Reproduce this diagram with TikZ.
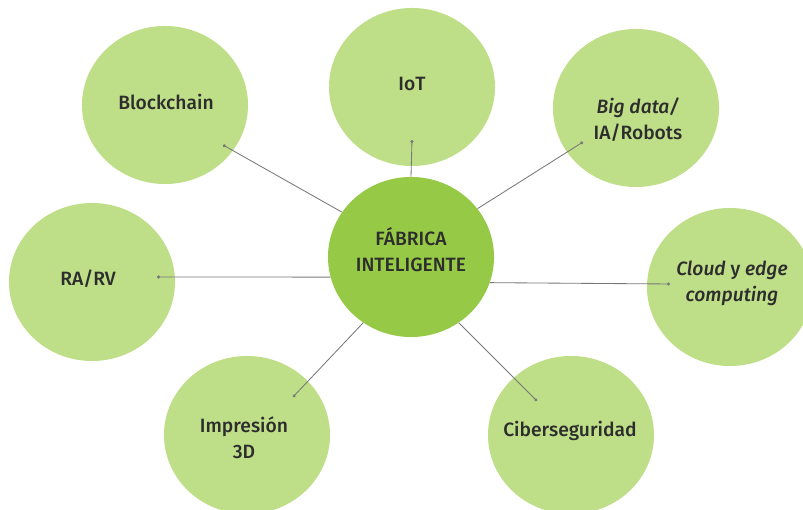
\documentclass[tikz,border=0pt]{standalone}
\usepackage{fontspec}
\setmainfont{Fira Sans}[BoldFont={* Medium},BoldItalicFont={* Medium Italic}]
\usetikzlibrary{shapes.geometric,arrows.meta}

\definecolor{leaf}{RGB}{190,222,136}
\definecolor{core}{RGB}{150,201,70}
\definecolor{ink}{RGB}{45,45,45}
\definecolor{wire}{RGB}{120,120,120}

\begin{document}
\begin{tikzpicture}[x=0.025cm,y=-0.025cm,
    sat/.style={ellipse,fill=leaf,minimum width=4.15cm,minimum height=3.95cm,inner sep=0pt},
    hub/.style={sat,fill=core,minimum height=4cm},
    txt/.style={text=ink,font=\fontsize{13.7}{18.5}\selectfont\bfseries,align=center,inner sep=0pt},
    conn/.style={{Circle[length=2.2pt]}-,draw=wire,line width=0.6pt}]
    \clip (0,0) rectangle (803,510);
    \begin{scope}
        \node[sat] (block) at (165,105) {};
        \node[sat] (iot) at (412,87) {};
        \node[sat] (bigdata) at (636,108) {};
        \node[sat] (rarv) at (92,282) {};
        \node[sat] (cloud) at (730,287) {};
        \node[sat] (print) at (247,435) {};
        \node[sat] (cyber) at (571,435) {};
        \node[hub] (fab) at (411,257) {};
    \end{scope}
    % textos
    \node[txt] (block-t) at (166,102) {Blockchain};
    \node[txt] (iot-t) at (412,84) {IoT};
    \node[txt] (bigdata-t) at (638,120) {\textit{Big data/}\\IA/Robots};
    \node[txt] (rarv-t) at (88,279) {RA/RV};
    \node[txt] (cloud-t) at (732,283) {\textit{Cloud} y \textit{edge}\\\textit{computing}};
    \node[txt] (print-t) at (244,438) {Impresión\\3D};
    \node[txt] (cyber-t) at (570,431) {Ciberseguridad};
    \node[txt] (fab-t) at (411,250) {FÁBRICA\\INTELIGENTE};
    % puntos de anclaje dentro de cada círculo
    \coordinate (d-block) at (223,145);
    \coordinate (d-iot) at (412,140);
    \coordinate (d-bigdata) at (583,142);
    \coordinate (d-rarv) at (157,277);
    \coordinate (d-cloud) at (670,284);
    \coordinate (d-print) at (293,397);
    \coordinate (d-cyber) at (537,401);
    \draw[conn] (d-block) -- (fab.147.5);
    \draw[conn] (d-iot) -- (fab.90);
    \draw[conn] (d-bigdata) -- (fab.36);
    \draw[conn] (d-rarv) -- (fab.194);
    \draw[conn] (d-cloud) -- (fab.-18);
    \draw[conn] (d-print) -- (fab.234);
    \draw[conn] (d-cyber) -- (fab.306);
\end{tikzpicture}
\end{document}
